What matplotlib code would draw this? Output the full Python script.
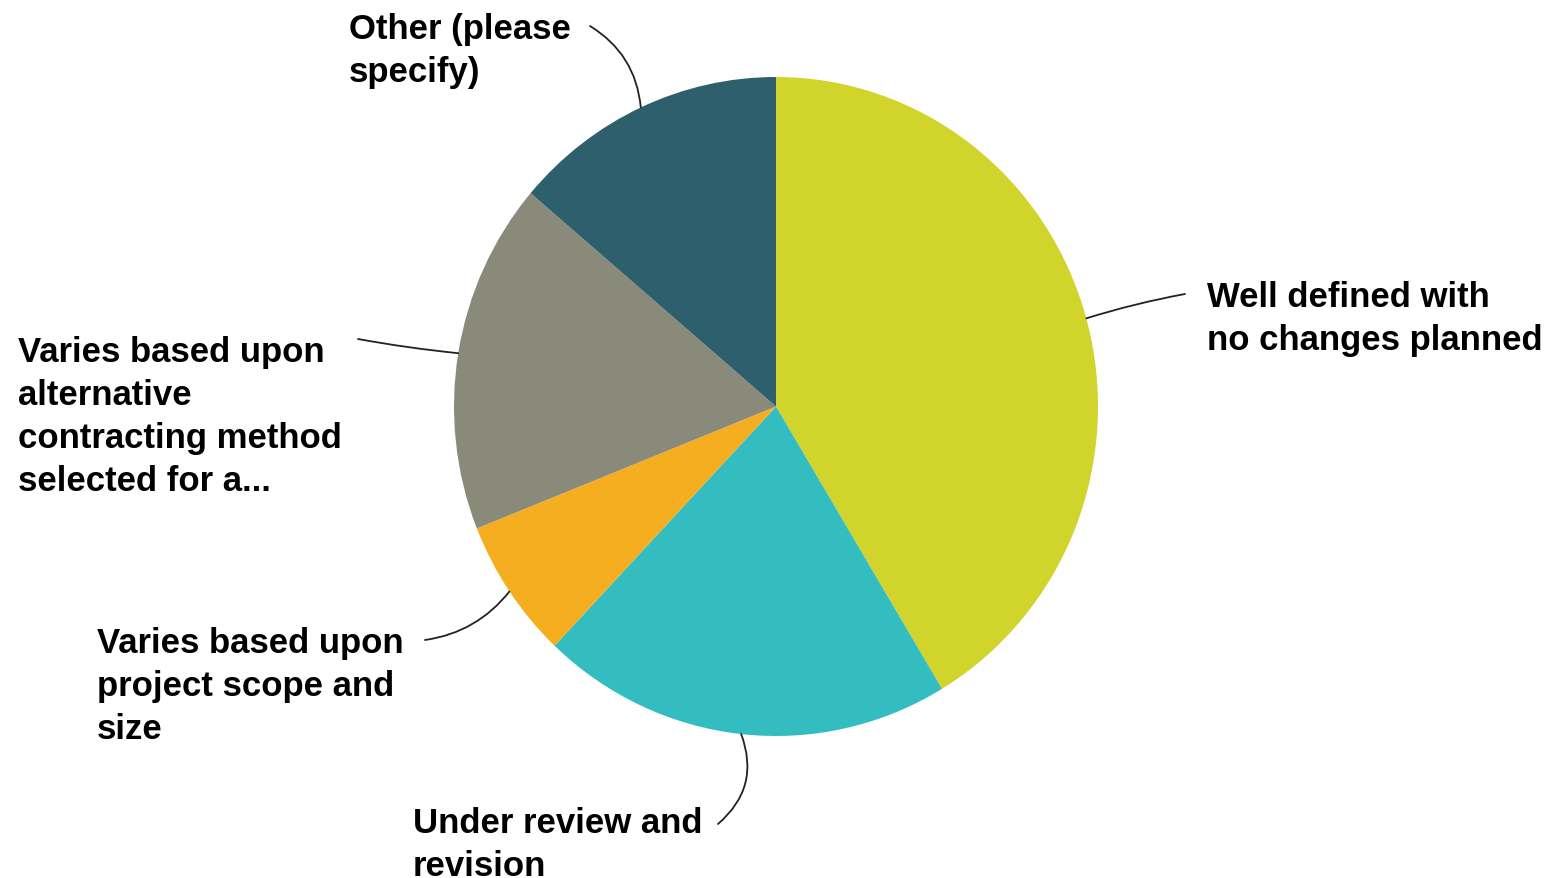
import matplotlib
matplotlib.use("Agg")
import matplotlib.pyplot as plt
import numpy as np

categories = [
    "Well defined with\nno changes planned",
    "Under review and\nrevision",
    "Varies based upon\nproject scope and\nsize",
    "Varies based upon\nalternative\ncontracting method\nselected for a...",
    "Other (please\nspecify)",
]
values = [12, 6, 2, 5, 4]
colors = ["#D0D42B", "#34BDC0", "#F5AE1F", "#8A8A7A", "#2E5F6D"]

W, H = 1555, 879
fig = plt.figure(figsize=(W / 100, H / 100), dpi=100)
fig.patch.set_facecolor("white")

# pie axes box (pixels): left 454, right 1098, top 78, bottom 737
ax = fig.add_axes([454 / W, (H - 737) / H, 644 / W, 659 / H])
wedges, _ = ax.pie(values, colors=colors, startangle=90, counterclock=False,
                   radius=1, wedgeprops=dict(linewidth=0))
ax.set_aspect("auto")
ax.set_xlim(-1, 1)
ax.set_ylim(-1, 1)
ax.axis("off")

# label placement (pixel coords, top-left origin): text left x, first baseline y,
# leader line end point, curvature
label_pos = [
    (1207, 308, (1185, 295), 0.03),
    (413, 834, (718, 825), 0.35),
    (97, 655, (425, 641), 0.2),
    (18, 365, (358, 340), 0.02),
    (349, 40, (590, 27), -0.25),
]
LINE = 42

font = dict(family=["Liberation Sans", "DejaVu Sans"], weight="bold", size=25, color="black")
for w, lab, (tx, ty, (ex, ey), rad) in zip(wedges, categories, label_pos):
    mid = np.deg2rad((w.theta1 + w.theta2) / 2)
    xy = (np.cos(mid), np.sin(mid))
    ax.annotate("", xy=xy, xycoords="data", xytext=(ex, H - ey),
                textcoords="figure pixels",
                arrowprops=dict(arrowstyle="-", color="#222222", lw=1.3,
                                shrinkA=0, shrinkB=0,
                                connectionstyle=f"arc3,rad={rad}"),
                annotation_clip=False)
    nlines = lab.count("\n")
    last_base = ty + nlines * LINE
    fig.text(tx / W, 1 - last_base / H, lab, ha="left", va="baseline",
             linespacing=1.39, **font)

fig.savefig("out.png", dpi=100, facecolor="white")
